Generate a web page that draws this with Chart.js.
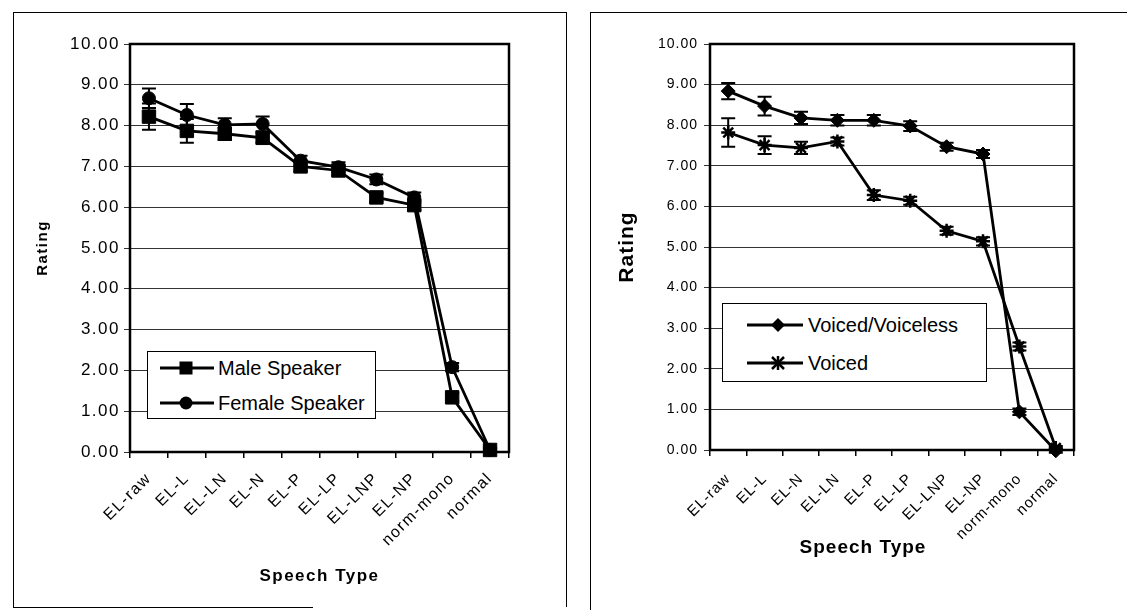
<!DOCTYPE html>
<html>
<head>
<meta charset="utf-8">
<script src="https://cdn.jsdelivr.net/npm/chart.js@4.4.1/dist/chart.umd.min.js"></script>
<style>
  body { margin: 0; background: #fff; width: 1127px; height: 610px; position: relative; overflow: hidden;
         font-family: "Liberation Sans", Arial, sans-serif; color: #000; }
  canvas { position: absolute; top: 0; }
  #left { left: 0; }
  #right { left: 570px; }
  .line { position: absolute; background: #000; }
  .legend { position: absolute; border: 1px solid #000; background: #fff; font-size: 20px; }
  .row { position: absolute; height: 24px; display: flex; align-items: center; white-space: nowrap; }
  .row svg { display: block; }
  #xtitle2 { position: absolute; left: 863px; top: 547px; transform: translate(-50%, -50%);
             font-weight: bold; font-size: 19px; letter-spacing: 1px; white-space: nowrap; }
</style>
</head>
<body>
<!-- panel frames -->
<div class="line" style="left:13px;top:12px;width:554px;height:1px"></div>
<div class="line" style="left:13px;top:12px;width:1px;height:595px"></div>
<div class="line" style="left:566px;top:12px;width:1px;height:595px"></div>
<div class="line" style="left:13px;top:607px;width:300px;height:1px"></div>
<div class="line" style="left:590px;top:12px;width:1px;height:598px"></div>
<div class="line" style="left:590px;top:12px;width:537px;height:1px"></div>

<canvas id="left" width="570" height="610"></canvas>
<canvas id="right" width="557" height="610"></canvas>

<div class="legend" style="left:147px;top:351px;width:227px;height:66px">
  <div class="row" style="left:12px;top:4px">
    <svg width="54" height="24"><line x1="0" y1="12" x2="54" y2="12" stroke="#000" stroke-width="2.8"/><rect x="19.5" y="5.5" width="13" height="13" fill="#000"/></svg>
    <span style="margin-left:4px">Male Speaker</span>
  </div>
  <div class="row" style="left:12px;top:39px">
    <svg width="54" height="24"><line x1="0" y1="12" x2="54" y2="12" stroke="#000" stroke-width="2.8"/><circle cx="26" cy="12" r="6.5" fill="#000"/></svg>
    <span style="margin-left:4px">Female Speaker</span>
  </div>
</div>

<div class="legend" style="left:722px;top:303px;width:263px;height:77px">
  <div class="row" style="left:24px;top:9px">
    <svg width="56" height="24"><line x1="0" y1="12" x2="56" y2="12" stroke="#000" stroke-width="2.8"/><polygon points="31,5 38,12 31,19 24,12" fill="#000"/></svg>
    <span style="margin-left:5px">Voiced/Voiceless</span>
  </div>
  <div class="row" style="left:24px;top:47px">
    <svg width="56" height="24"><line x1="0" y1="12" x2="56" y2="12" stroke="#000" stroke-width="2.8"/>
      <g stroke="#000" stroke-width="2.5"><line x1="31" y1="5" x2="31" y2="19"/><line x1="25" y1="6" x2="37" y2="18"/><line x1="37" y1="6" x2="25" y2="18"/><line x1="24" y1="12" x2="38" y2="12"/></g></svg>
    <span style="margin-left:5px">Voiced</span>
  </div>
</div>

<div id="xtitle2">Speech Type</div>

<script>
// ---- data ----
const leftLabels = ['EL-raw', 'EL-L', 'EL-LN', 'EL-N', 'EL-P', 'EL-LP', 'EL-LNP', 'EL-NP', 'norm-mono', 'normal'];
const maleValues = [8.22, 7.87, 7.80, 7.70, 7.00, 6.90, 6.24, 6.05, 1.34, 0.05];
const maleErr    = [0.32, 0.29, 0.15, 0.12, 0.12, 0.12, 0.10, 0.12, 0.10, 0.05];
const femaleValues = [8.67, 8.26, 8.02, 8.04, 7.14, 6.98, 6.68, 6.24, 2.08, 0.05];
const femaleErr    = [0.24, 0.27, 0.16, 0.18, 0.12, 0.12, 0.12, 0.12, 0.10, 0.05];

const rightLabels = ['EL-raw', 'EL-L', 'EL-N', 'EL-LN', 'EL-P', 'EL-LP', 'EL-LNP', 'EL-NP', 'norm-mono', 'normal'];
const vvValues = [8.84, 8.47, 8.18, 8.12, 8.12, 7.98, 7.47, 7.29, 0.94, -0.02];
const vvErr    = [0.20, 0.23, 0.15, 0.13, 0.13, 0.12, 0.10, 0.10, 0.08, 0.05];
const voicedValues = [7.82, 7.51, 7.44, 7.60, 6.28, 6.14, 5.40, 5.14, 2.55, 0.05];
const voicedErr    = [0.35, 0.22, 0.15, 0.10, 0.12, 0.10, 0.10, 0.10, 0.10, 0.05];

const yTicks = [0, 1, 2, 3, 4, 5, 6, 7, 8, 9, 10];
const FONT = '"Liberation Sans", Arial, sans-serif';

// ---- plugins ----
const spacing = {
    id: 'spacing',
    beforeUpdate(chart, args, opts) { chart.ctx.letterSpacing = opts.px + 'px'; },
    beforeDraw(chart, args, opts) { chart.ctx.letterSpacing = opts.px + 'px'; }
};

const errorBars = {
    id: 'errorBars',
    afterDatasetsDraw(chart) {
        const ctx = chart.ctx;
        const y = chart.scales.y;
        chart.data.datasets.forEach((ds, i) => {
            if (!ds.errors) return;
            chart.getDatasetMeta(i).data.forEach((pt, j) => {
                const e = ds.errors[j];
                const v = ds.data[j];
                const top = y.getPixelForValue(v + e);
                const bot = y.getPixelForValue(v - e);
                ctx.save();
                ctx.strokeStyle = '#000';
                ctx.lineWidth = 2;
                ctx.beginPath();
                ctx.moveTo(pt.x, top); ctx.lineTo(pt.x, bot);
                ctx.moveTo(pt.x - 7, top); ctx.lineTo(pt.x + 7, top);
                ctx.moveTo(pt.x - 7, bot); ctx.lineTo(pt.x + 7, bot);
                ctx.stroke();
                ctx.restore();
            });
        });
    }
};

const plotBorder = {
    id: 'plotBorder',
    afterDraw(chart) {
        const {ctx, chartArea: a} = chart;
        ctx.save();
        ctx.strokeStyle = '#000';
        ctx.lineWidth = 2.5;
        ctx.strokeRect(a.left, a.top, a.right - a.left, a.bottom - a.top);
        ctx.restore();
    }
};

function scales(o) {
    return {
        x: {
            type: 'category',
            offset: true,
            afterFit: (s) => { s.height = o.xHeight; },
            grid: { display: true, offset: true, drawOnChartArea: false, drawTicks: true, tickLength: 6, color: '#000', lineWidth: 1.5 },
            border: { display: false },
            ticks: { autoSkip: false, minRotation: 45, maxRotation: 45, padding: o.xPad, color: '#000',
                     font: { family: FONT, size: o.xFont } },
            title: { display: o.xTitle, text: 'Speech Type', color: '#000', padding: { top: 0, bottom: o.xTitlePad },
                     font: { family: FONT, size: o.xTitleFont, weight: 'bold' } }
        },
        y: {
            min: 0, max: 10,
            afterFit: (s) => { s.width = o.yWidth; },
            afterBuildTicks: (s) => { s.ticks = yTicks.map(v => ({ value: v })); },
            grid: { color: '#333', lineWidth: 1, tickLength: 6, drawTicks: true },
            border: { display: false },
            ticks: { padding: o.yPad, color: '#000', font: { family: FONT, size: o.yFont },
                     callback: (v) => Number(v).toFixed(2) },
            title: { display: true, text: 'Rating', color: '#000', padding: { top: o.yTitlePad, bottom: 0 },
                     font: { family: FONT, size: o.yTitleFont, weight: 'bold' } }
        }
    };
}

function series(label, data, errors, style, radius) {
    return {
        label: label, data: data, errors: errors,
        borderColor: '#000', backgroundColor: '#000', borderWidth: 2.8,
        pointStyle: style, pointRadius: radius, pointHoverRadius: radius,
        pointBackgroundColor: '#000', pointBorderColor: '#000', pointBorderWidth: style === 'star' ? 2.5 : 1,
        tension: 0, clip: false
    };
}

new Chart(document.getElementById('left'), {
    type: 'line',
    data: {
        labels: leftLabels,
        datasets: [
            series('Male Speaker', maleValues, maleErr, 'rect', 9.5),
            series('Female Speaker', femaleValues, femaleErr, 'circle', 6.5)
        ]
    },
    options: {
        responsive: false, animation: false,
        layout: { padding: { top: 44, right: 61, left: 0, bottom: 0 } },
        plugins: { legend: { display: false }, tooltip: { enabled: false }, spacing: { px: 1.5 } },
        scales: scales({ xHeight: 158, xPad: 11, xFont: 16, xTitle: true, xTitlePad: 23, xTitleFont: 17,
                         yWidth: 130, yPad: 4, yFont: 17, yTitlePad: 34, yTitleFont: 15 })
    },
    plugins: [spacing, errorBars, plotBorder]
});

new Chart(document.getElementById('right'), {
    type: 'line',
    data: {
        labels: rightLabels,
        datasets: [
            series('Voiced/Voiceless', vvValues, vvErr, 'rectRot', 7),
            series('Voiced', voicedValues, voicedErr, 'star', 7)
        ]
    },
    options: {
        responsive: false, animation: false,
        layout: { padding: { top: 44, right: 53, left: 0, bottom: 0 } },
        plugins: { legend: { display: false }, tooltip: { enabled: false }, spacing: { px: 1 } },
        scales: scales({ xHeight: 160, xPad: 14, xFont: 15, xTitle: false, xTitlePad: 0, xTitleFont: 19,
                         yWidth: 140, yPad: 6, yFont: 14, yTitlePad: 45, yTitleFont: 21 })
    },
    plugins: [spacing, errorBars, plotBorder]
});
</script>
</body>
</html>
